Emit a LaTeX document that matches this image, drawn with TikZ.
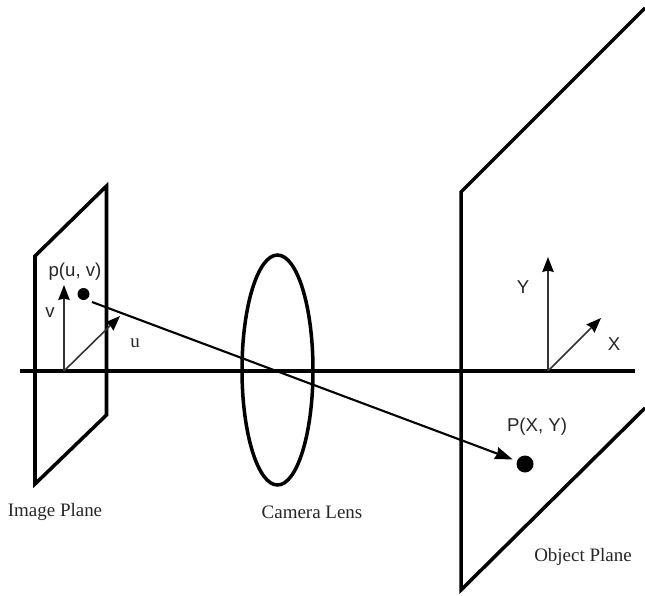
\documentclass[tikz,border=0pt]{standalone}
\usepackage{fontspec}
\setmainfont{Liberation Serif}
\setsansfont{Liberation Sans}
\usetikzlibrary{arrows.meta, shapes.geometric}
\begin{document}
\begin{tikzpicture}[
    x=0.02cm, y=-0.02cm,
    plane/.style={draw=black, line width=2pt, line join=miter},
    lens/.style={ellipse, draw=black, line width=2pt, minimum width=1.42cm, minimum height=4.6cm, inner sep=0pt},
    axisline/.style={draw=black, line width=2pt},
    coordarrow/.style={draw=black!80, line width=0.9pt, -{Stealth[length=8.5pt,width=6.5pt,inset=0.8pt,color=black]}},
    ray/.style={draw=black, line width=1.2pt, -{Stealth[length=10pt,width=7pt,inset=0.8pt]}},
    smalldot/.style={circle, fill=black, minimum size=0.24cm, inner sep=0pt},
    bigdot/.style={circle, fill=black, minimum size=0.34cm, inner sep=0pt},
    seriflabel/.style={font=\rmfamily\fontsize{10.8}{12}\selectfont, text=black!85, inner sep=0pt},
    sanslabel/.style={font=\sffamily\fontsize{10.6}{12}\selectfont, text=black!85, inner sep=0pt},
]
\useasboundingbox (0,0) rectangle (645,595);

% ---------- Planes ----------
\draw[plane] (35,256) -- (106.5,186) -- (106.5,415) -- (35,484) -- cycle;
\draw[plane] (645,8) -- (461,192) -- (461,590) -- (645,408);

% ---------- Lens ----------
\node[lens] (lens) at (277.5,370) {};

% ---------- Optical axis ----------
\coordinate (axisL) at (20,371);
\coordinate (axisR) at (635,371);
\coordinate (imgO) at (64,371);
\coordinate (objO) at (548,371);
\draw[axisline] (axisL) -- (axisR);

% ---------- Coordinate arrows ----------
\coordinate (vtip) at (64,285);
\coordinate (utip) at (120,316);
\coordinate (Ytip) at (548,257);
\coordinate (Xtip) at (601,318);
\draw[coordarrow] (imgO) -- (vtip);
\draw[coordarrow] (imgO) -- (utip);
\draw[coordarrow] (objO) -- (Ytip);
\draw[coordarrow] (objO) -- (Xtip);

% ---------- Points and ray ----------
\node[smalldot] (p) at (83.5,294) {};
\node[bigdot] (P) at (525,464) {};
\coordinate (rayS) at (92,302);
\draw[ray, shorten >=2.5pt] (rayS) -- (P);

% ---------- Labels ----------
\node[sanslabel] (plabel) at (75,272) {p(u, v)};
\node[sanslabel] (vlabel) at (50,313) {v};
\node[seriflabel] (ulabel) at (135,343) {u};
\node[sanslabel] (Ylabel) at (523,287) {Y};
\node[sanslabel] (Xlabel) at (614,344) {X};
\node[sanslabel] (Plabel) at (537,427) {P(X, Y)};
\node[seriflabel] (imglabel) at (55,512) {Image Plane};
\node[seriflabel] (lenslabel) at (312,512) {Camera Lens};
\node[seriflabel] (objlabel) at (583,557) {Object Plane};

\end{tikzpicture}
\end{document}
